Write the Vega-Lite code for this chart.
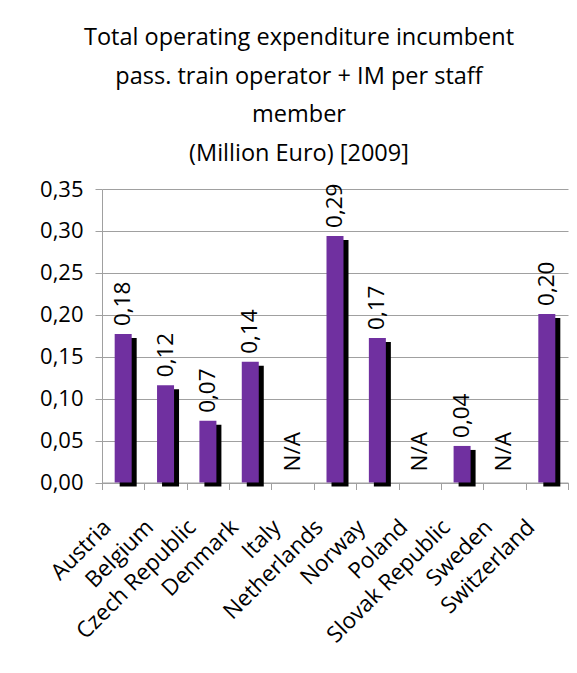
{
  "$schema": "https://vega.github.io/schema/vega-lite/v6.json",
  "width": 466,
  "height": 293.5,
  "autosize": {"type": "none"},
  "padding": {"left": 102, "top": 189, "right": 9, "bottom": 190.5},
  "background": "white",
  "title": {
    "text": ["Total operating expenditure incumbent", "pass. train operator + IM per staff", "member", "(Million Euro)  [2009]"],
    "font": "Open Sans",
    "fontSize": 23.5,
    "fontWeight": "normal",
    "color": "black",
    "lineHeight": 38.5,
    "anchor": "middle",
    "frame": "group",
    "dx": -36,
    "offset": 13
  },
  "data": {
    "values": [
      {"country": "Austria", "value": 0.177},
      {"country": "Belgium", "value": 0.116},
      {"country": "Czech Republic", "value": 0.0735},
      {"country": "Denmark", "value": 0.144},
      {"country": "Italy", "value": null},
      {"country": "Netherlands", "value": 0.294},
      {"country": "Norway", "value": 0.1724},
      {"country": "Poland", "value": null},
      {"country": "Slovak Republic", "value": 0.0436},
      {"country": "Sweden", "value": null},
      {"country": "Switzerland", "value": 0.201}
    ]
  },
  "encoding": {
    "x": {
      "field": "country",
      "type": "nominal",
      "sort": null,
      "scale": {
        "domain": ["Austria", "Belgium", "Czech Republic", "Denmark", "Italy", "Netherlands", "Norway", "Poland", "Slovak Republic", "Sweden", "Switzerland"],
        "paddingInner": 0,
        "paddingOuter": 0
      },
      "axis": {
        "title": null,
        "labelAngle": -45,
        "labelAlign": "right",
        "labelBaseline": "top",
        "labelFont": "Open Sans",
        "labelFontSize": 22.5,
        "labelColor": "black",
        "labelPadding": 26,
        "labelOffset": -24,
        "tickBand": "extent",
        "tickSize": 7,
        "tickColor": "#a0a0a0",
        "domainColor": "#a0a0a0",
        "grid": false
      }
    }
  },
  "layer": [
    {
      "transform": [{"filter": "isValid(datum.value)"}],
      "mark": {"type": "bar", "size": 17, "color": "black", "xOffset": 5, "x2Offset": 5, "yOffset": 4},
      "encoding": {
        "y": {
          "field": "value",
          "type": "quantitative",
          "scale": {"domain": [0, 0.35], "nice": false},
          "axis": {
            "title": null,
            "values": [0, 0.05, 0.1, 0.15, 0.2, 0.25, 0.3, 0.35],
            "format": ".2f",
            "labelFont": "Open Sans",
            "labelFontSize": 22,
            "labelColor": "black",
            "labelPadding": 12,
            "tickSize": 7,
            "tickColor": "#a0a0a0",
            "domainColor": "#a0a0a0",
            "gridColor": "#a0a0a0",
            "grid": true
          }
        }
      }
    },
    {
      "transform": [{"filter": "isValid(datum.value)"}],
      "mark": {"type": "bar", "size": 17, "color": "#7030A0"},
      "encoding": {"y": {"field": "value", "type": "quantitative"}}
    },
    {
      "transform": [{"filter": "isValid(datum.value)"}],
      "mark": {"type": "text", "angle": -90, "align": "left", "baseline": "middle", "dx": 8, "font": "Open Sans", "fontSize": 22.5, "color": "black"},
      "encoding": {
        "y": {"field": "value", "type": "quantitative"},
        "text": {"field": "value", "type": "quantitative", "format": ".2f"}
      }
    },
    {
      "data": {"values": [
        {"country": "Italy", "label": "N/A"},
        {"country": "Poland", "label": "N/A"},
        {"country": "Sweden", "label": "N/A"}
      ]},
      "mark": {"type": "text", "angle": -90, "align": "left", "baseline": "middle", "dx": 11, "font": "Open Sans", "fontSize": 22.5, "color": "black"},
      "encoding": {
        "y": {"datum": 0, "type": "quantitative"},
        "text": {"field": "label", "type": "nominal"}
      }
    }
  ],
  "config": {
    "view": {"stroke": null},
    "locale": {"number": {"decimal": ",", "thousands": ".", "grouping": [3], "currency": ["", " €"]}}
  }
}
